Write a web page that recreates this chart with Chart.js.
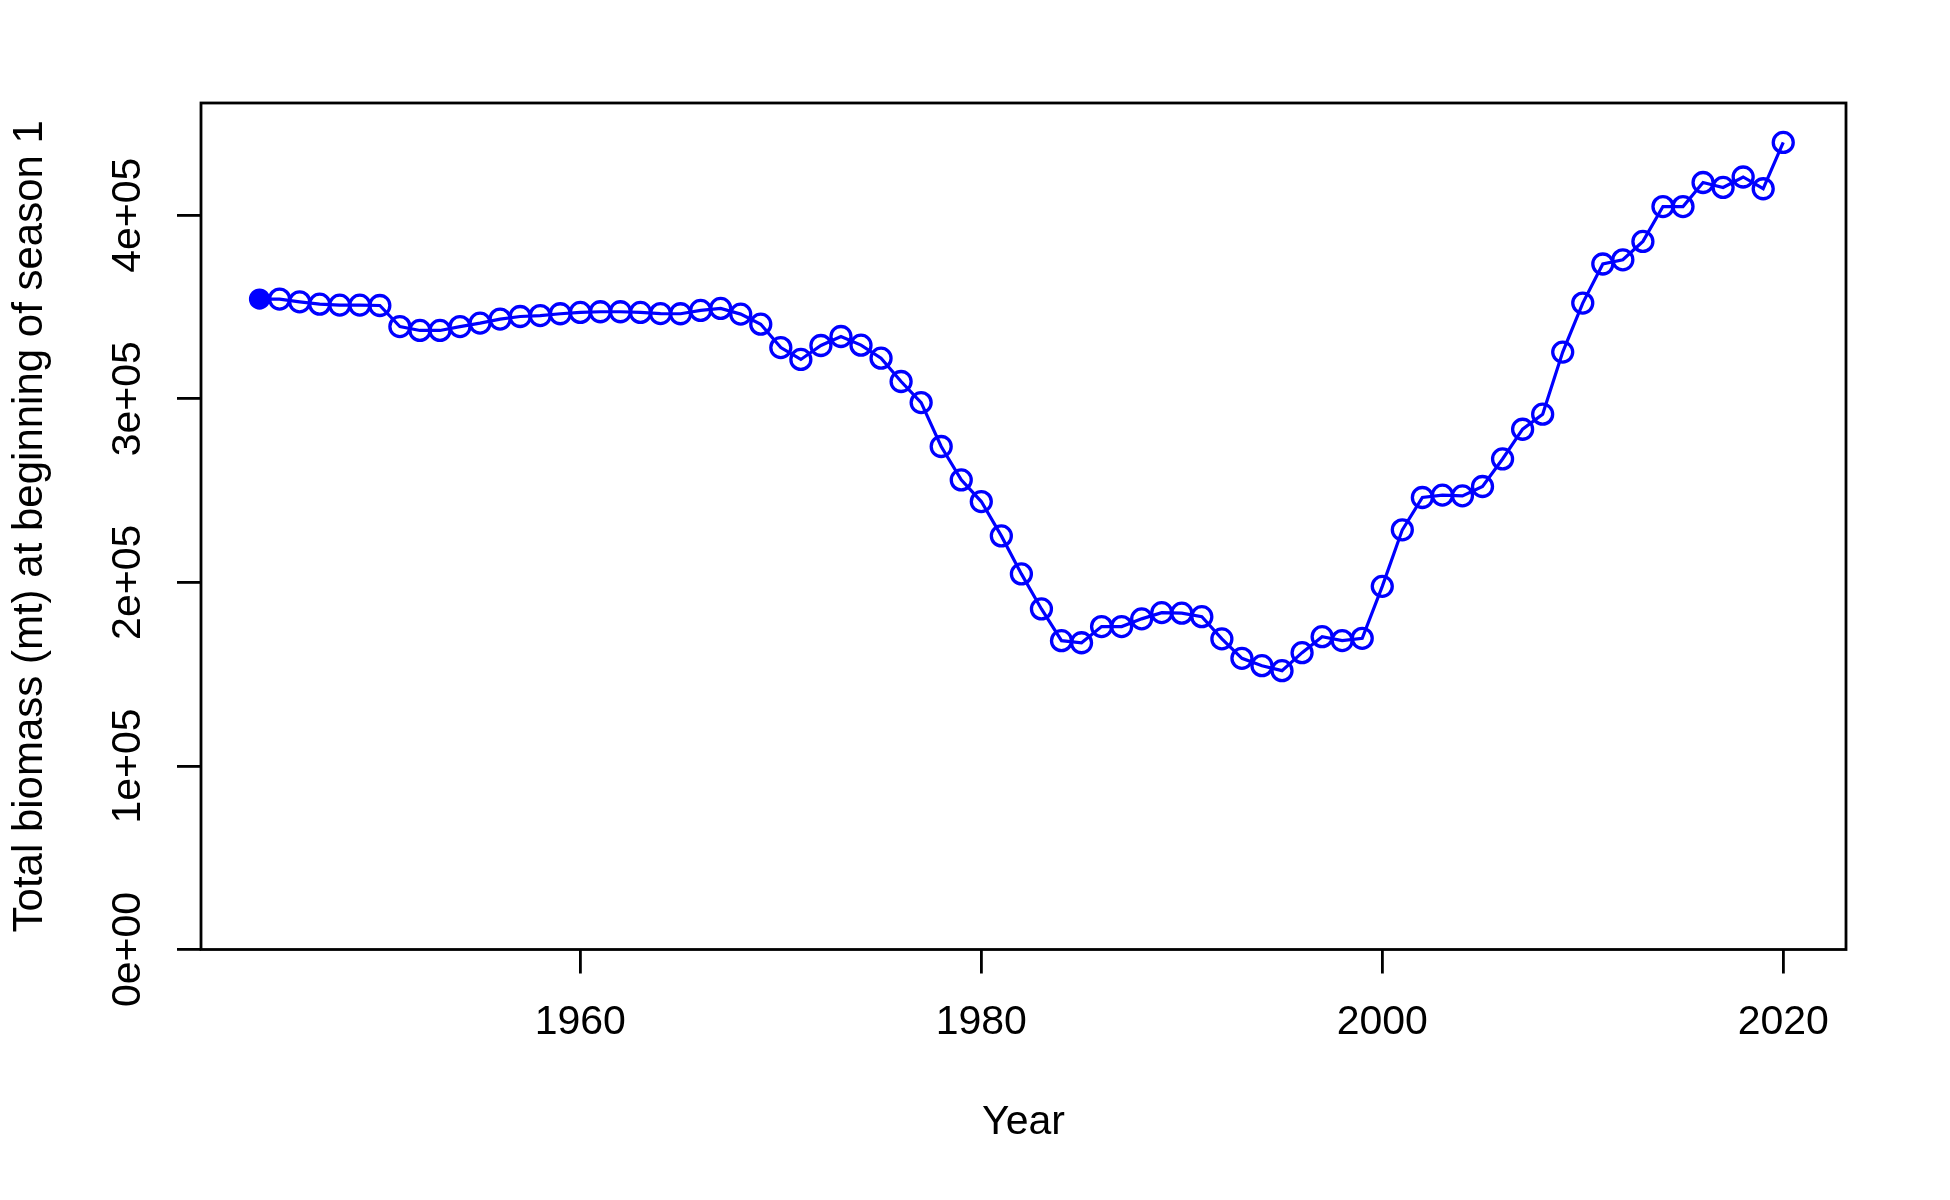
<!DOCTYPE html>
<html>
<head>
<meta charset="utf-8">
<script src="https://cdn.jsdelivr.net/npm/chart.js@4.4.1/dist/chart.umd.min.js"></script>
<style>
  html, body { margin: 0; padding: 0; background: #ffffff; }
  #wrap { width: 1950px; height: 1200px; position: relative; }
</style>
</head>
<body>
<div id="wrap"><canvas id="c" width="1950" height="1200"></canvas></div>
<script>
const years = [1944,1945,1946,1947,1948,1949,1950,1951,1952,1953,1954,1955,1956,1957,1958,1959,
  1960,1961,1962,1963,1964,1965,1966,1967,1968,1969,1970,1971,1972,1973,1974,1975,1976,1977,1978,1979,
  1980,1981,1982,1983,1984,1985,1986,1987,1988,1989,1990,1991,1992,1993,1994,1995,1996,1997,1998,1999,
  2000,2001,2002,2003,2004,2005,2006,2007,2008,2009,2010,2011,2012,2013,2014,2015,2016,2017,2018,2019,2020];

const totalBiomass = [354300,354300,352800,351500,351000,351000,350800,339300,337200,337200,339300,341200,343400,344800,345300,346300,
  347000,347400,347400,347000,346400,346300,348100,349200,346100,340600,327900,321400,329000,333900,329200,322100,309400,297900,274000,255800,
  244000,225300,204600,185500,168200,167100,175900,175900,180100,183500,183200,181300,169200,158600,154600,151900,161700,170400,168300,169500,
  197800,228600,246200,247500,247100,252200,267200,283400,291600,325400,352100,373400,375700,385700,404700,404700,417800,415100,420800,414400,439600];

const xTickValues = [1960, 1980, 2000, 2020];
const yTickValues = [0, 100000, 200000, 300000, 400000];
const yTickLabels = ["0e+00", "1e+05", "2e+05", "3e+05", "4e+05"];

const xTitle = "Year";
const yTitle = "Total biomass (mt) at beginning of season 1";

const FONT = "'Liberation Sans', Arial, Helvetica, sans-serif";

const boxPlugin = {
  id: 'boxPlugin',
  afterDraw(chart) {
    const {ctx, chartArea: a} = chart;
    ctx.save();
    ctx.strokeStyle = '#000000';
    ctx.lineWidth = 2.8;
    ctx.strokeRect(a.left, a.top, a.right - a.left, a.bottom - a.top);
    ctx.restore();
  }
};

const points = years.map((y, i) => ({ x: y, y: totalBiomass[i] }));
const radii = years.map((y, i) => i === 0 ? 9 : 10);
const fills = years.map((y, i) => i === 0 ? '#0000FF' : 'rgba(0,0,0,0)');

new Chart(document.getElementById('c'), {
  type: 'line',
  data: {
    datasets: [{
      data: points,
      borderColor: '#0000FF',
      borderWidth: 3.2,
      pointRadius: radii,
      pointHoverRadius: radii,
      pointBorderWidth: 3.3,
      pointBorderColor: '#0000FF',
      pointBackgroundColor: fills,
      pointStyle: 'circle',
      tension: 0,
      fill: false
    }]
  },
  options: {
    responsive: false,
    animation: false,
    devicePixelRatio: 1,
    events: [],
    layout: { padding: { top: 103, right: 104, left: 0, bottom: 0 } },
    plugins: {
      legend: { display: false },
      tooltip: { enabled: false },
      title: { display: false }
    },
    scales: {
      x: {
        type: 'linear',
        min: 1941.08,
        max: 2023.13,
        afterBuildTicks: (scale) => { scale.ticks = xTickValues.map(v => ({ value: v })); },
        afterFit: (scale) => { scale.height = 250.5; },
        border: { display: false },
        grid: {
          drawOnChartArea: false,
          drawTicks: true,
          tickLength: 24,
          color: '#000000',
          lineWidth: 2.8
        },
        ticks: {
          autoSkip: false,
          maxRotation: 0,
          minRotation: 0,
          padding: 25,
          color: '#000000',
          font: { family: FONT, size: 41 },
          callback: (v) => String(v)
        },
        title: {
          display: true,
          text: xTitle,
          color: '#000000',
          font: { family: FONT, size: 41 },
          padding: { top: 0, bottom: 52.6 }
        }
      },
      y: {
        type: 'linear',
        min: 0,
        max: 461100,
        afterBuildTicks: (scale) => { scale.ticks = yTickValues.map(v => ({ value: v })); },
        afterFit: (scale) => { scale.width = 201; },
        border: { display: false },
        grid: {
          drawOnChartArea: false,
          drawTicks: true,
          tickLength: 24,
          color: '#000000',
          lineWidth: 2.8
        },
        ticks: {
          autoSkip: false,
          minRotation: 90,
          maxRotation: 90,
          crossAlign: 'center',
          padding: -9.6,
          color: '#000000',
          font: { family: FONT, size: 41 },
          callback: (v) => { const i = yTickValues.indexOf(v); return i >= 0 ? yTickLabels[i] : ''; }
        },
        title: {
          display: true,
          text: yTitle,
          color: '#000000',
          font: { family: FONT, size: 42 },
          padding: { top: 5, bottom: 0 }
        }
      }
    }
  },
  plugins: [boxPlugin]
});
</script>
</body>
</html>
